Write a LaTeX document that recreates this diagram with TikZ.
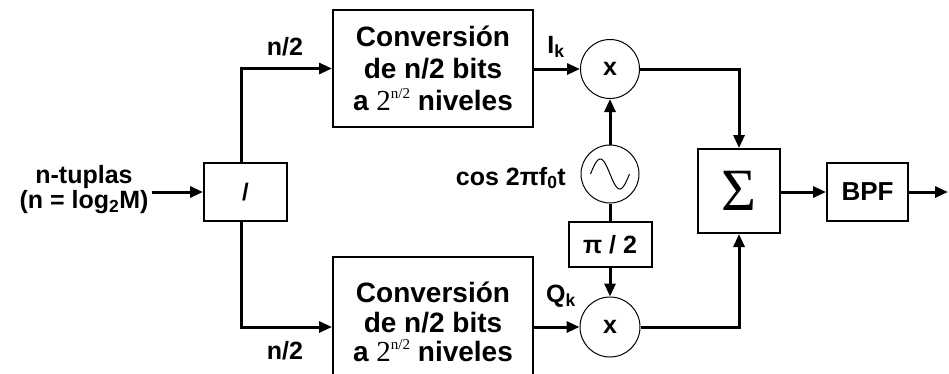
\documentclass[tikz,border=0pt]{standalone}
\usepackage{fontspec}
\setmainfont{Liberation Sans}
\newfontfamily\seriff{Liberation Serif}
\usetikzlibrary{arrows.meta}
\begin{document}
\begin{tikzpicture}[x=1pt,y=-1pt,
  box/.style={draw, line width=2pt, inner sep=0pt},
  mix/.style={draw, circle, line width=1pt, minimum size=59pt, inner sep=0pt, font=\bfseries\fontsize{25}{25}\selectfont},
  btxt/.style={font=\bfseries\fontsize{28}{32}\selectfont, align=center},
  lbl/.style={font=\bfseries\fontsize{25}{25}\selectfont, align=center, inner sep=0pt},
  conn/.style={line width=3pt},
  arr/.style={conn, -{Triangle[length=13pt,width=11pt]}}
]
\useasboundingbox (0,0) rectangle (949,373);
\newcommand{\twopow}{{\seriff\mdseries\fontsize{29}{29}\selectfont 2\raisebox{0.42em}{\fontsize{15}{15}\selectfont n/2}}}

% nodes
\node[lbl] (ntup) at (84,190) {n-tuplas\\(n = log\textsubscript{2}M)};
\node[box, minimum width=83pt, minimum height=58pt, font=\bfseries\fontsize{24}{24}\selectfont] (div) at (245.5,192) {/};
\node[box, btxt, minimum width=200pt, minimum height=117pt] (topbox) at (433,68.5) {Conversión\\de n/2 bits\\a \twopow{} niveles};
\node[box, btxt, font=\bfseries\fontsize{28}{29.5}\selectfont, minimum width=200pt, minimum height=130pt] (botbox) at (433,322) {Conversión\\de n/2 bits\\a \twopow{} niveles};
\node[mix] (mixT) at (610,69) {x};
\node[mix, minimum size=60pt] (mixB) at (610,327) {x};
\node[draw, circle, line width=1pt, minimum size=58pt, inner sep=0pt] (osc) at (610,174) {};
\node[box, minimum width=83pt, minimum height=45pt, font=\bfseries\fontsize{25}{25}\selectfont] (pi2) at (610,244.5) {π / 2};
\node[box, minimum width=82pt, minimum height=84pt, font=\seriff\fontsize{60}{60}\selectfont] (sum) at (739,191) {Σ};
\node[box, minimum width=81pt, minimum height=58pt, font=\bfseries\fontsize{26}{26}\selectfont] (bpf) at (867.5,192) {BPF};
\coordinate (out) at (948,192);

% labels
\node[lbl] (lT) at (285,47) {n/2};
\node[lbl] (lB) at (285,351) {n/2};
\node[lbl] (Ik) at (556,47) {I\textsubscript{k}};
\node[lbl] (Qk) at (561,296) {Q\textsubscript{k}};
\node[lbl, anchor=east] (cosl) at (566,178) {cos 2πf\textsubscript{0}t};

% sine inside oscillator
\draw[line width=1pt] plot[domain=0:360, samples=50, smooth] ({610-19.5+\x/360*39},{174-15*sin(\x)});

% connectors
\draw[arr] (ntup.east |- div.west) ++(3,0) -- (div.west);
\draw[arr] ([xshift=-4.5pt]div.north) |- (topbox.west);
\draw[arr] ([xshift=-4.5pt]div.south) |- (botbox.west |- mixB.west);
\draw[arr] (botbox.east |- mixB.west) -- (mixB.west);
\draw[arr] (topbox.east |- mixT.west) -- (mixT.west);
\draw[arr] (osc.north) -- (mixT.south);
\draw[conn] (osc.south) -- (pi2.north);
\draw[arr] (pi2.south) -- (mixB.north);
\draw[arr] (mixT.east) -| (sum.north);
\draw[arr] (mixB.east) -| (sum.south);
\draw[arr] (sum.east |- bpf.west) -- (bpf.west);
\draw[arr] (bpf.east) -- (out);
\end{tikzpicture}
\end{document}
